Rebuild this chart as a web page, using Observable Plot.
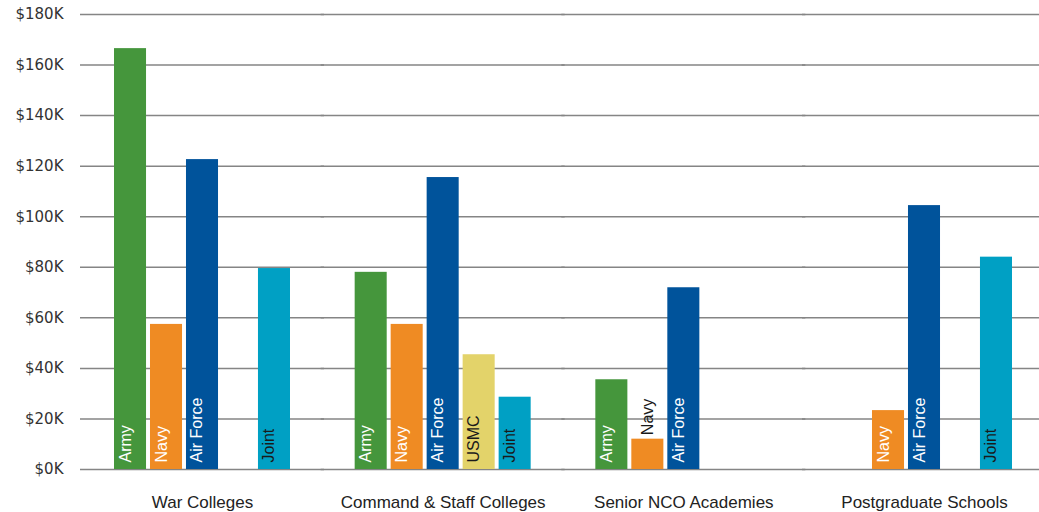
<!DOCTYPE html>
<html>
<head>
<meta charset="utf-8">
<script src="https://cdn.jsdelivr.net/npm/d3@7"></script>
<script src="https://cdn.jsdelivr.net/npm/@observablehq/plot@0.6"></script>
<style>
  html, body { margin: 0; padding: 0; background: #ffffff; }
  #chart svg { display: block; }
  #chart [aria-label^="fx-axis"] text { font-size: 17px; fill: #222; }
  #chart [aria-label^="y-axis"] text { font-family: 'DejaVu Sans', sans-serif; font-size: 15px; fill: #333; }
</style>
</head>
<body>
<div id="chart"></div>
<script>
// Categories
const groups = ["War Colleges", "Command & Staff Colleges", "Senior NCO Academies", "Postgraduate Schools"];
const services = ["Army", "Navy", "Air Force", "USMC", "Joint"];
const serviceColors = ["#45963C", "#EF8B23", "#00539B", "#E3D36A", "#00A0C4"];
const labelColors = ["#ffffff", "#ffffff", "#ffffff", "#1a1a1a", "#1a1a1a"];

// Values in thousands of dollars, one per service (null = no bar)
const warColleges  = [166.5, 57.4, 122.6, null, 79.5];
const commandStaff = [78.0, 57.4, 115.5, 45.4, 28.6];
const seniorNCO    = [35.5, 12.0, 71.9, null, null];
const postgraduate = [null, 23.3, 104.4, null, 84.0];

// Tick values for the y axis
const yTicks = [0, 20, 40, 60, 80, 100, 120, 140, 160, 180];

const seriesByGroup = [warColleges, commandStaff, seniorNCO, postgraduate];
const rows = [];
groups.forEach((g, gi) => {
  seriesByGroup[gi].forEach((v, si) => {
    if (v != null) rows.push({group: g, service: services[si], value: v});
  });
});
const colorOf = Object.fromEntries(services.map((s, i) => [s, serviceColors[i]]));
const labelColorOf = Object.fromEntries(services.map((s, i) => [s, labelColors[i]]));

const chart = Plot.plot({
  width: 1039,
  height: 512,
  marginTop: 14,
  marginBottom: 43,
  marginLeft: 114,
  marginRight: 27,
  style: {fontFamily: "'Liberation Sans', Arial, sans-serif", fontSize: "16px", color: "#333", background: "#ffffff"},
  facet: {data: rows, x: "group"},
  fx: {domain: groups, axis: "bottom", round: false, paddingInner: 0.2687, paddingOuter: 0, tickSize: 0, tickPadding: 26, label: null},
  x: {domain: services, axis: null, round: false, paddingInner: 0.11, paddingOuter: 0},
  y: {domain: [0, 180], ticks: yTicks, tickFormat: d => `$${d}K`, tickSize: 0, tickPadding: 51, label: null},
  color: {type: "identity"},
  marks: [
    Plot.ruleY(yTicks, {y: d => d, stroke: "#858585", strokeWidth: 1.5, insetLeft: -34, insetRight: -34}),
    Plot.barY(rows, {x: "service", y: "value", fill: d => colorOf[d.service]}),
    Plot.text(rows, {
      filter: d => d.value >= 20,
      x: "service", frameAnchor: "bottom", dy: -7,
      rotate: -90, textAnchor: "start",
      text: "service", fill: d => labelColorOf[d.service], fontSize: 16
    }),
    Plot.text(rows, {
      filter: d => d.value < 20,
      x: "service", y: "value", dy: -4,
      rotate: -90, textAnchor: "start",
      text: "service", fill: "#1a1a1a", fontSize: 16
    })
  ]
});
document.getElementById("chart").appendChild(chart);
</script>
</body>
</html>
